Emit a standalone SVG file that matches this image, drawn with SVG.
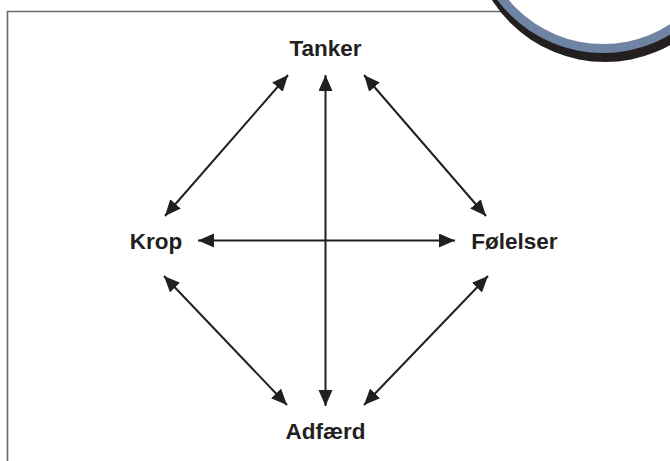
<svg xmlns="http://www.w3.org/2000/svg" width="670" height="461" viewBox="0 0 670 461">
<style>
.lbl{font-family:"Liberation Sans",Arial,sans-serif;font-weight:bold;font-size:22.5px;fill:#231f20;text-anchor:middle}
.con{stroke:#231f20;stroke-width:2;fill:none;marker-start:url(#ah);marker-end:url(#ah)}
.frame{stroke:#6a6a6a;stroke-width:1.6;fill:none}
</style>
<defs>
<marker id="ah" markerUnits="userSpaceOnUse" markerWidth="17" markerHeight="15" refX="16" refY="7" orient="auto-start-reverse">
<path d="M0,0 L16,7 L0,14 Z" fill="#231f20"/>
</marker>
</defs>
<rect width="670" height="461" fill="#ffffff"/>
<g id="frame">
<path class="frame" d="M7.5,461 V11.5 H502"/>
<circle cx="605" cy="-72" r="134" fill="#231f20"/>
<circle cx="603" cy="-79" r="132" fill="#6f84a3"/>
<circle cx="603" cy="-79" r="123" fill="#ffffff"/>
</g>
<g id="connectors">
<line class="con" x1="325.5" y1="75" x2="325.5" y2="406"/>
<line class="con" x1="198" y1="240.5" x2="455" y2="240.5"/>
<line class="con" x1="288" y1="75" x2="165" y2="216"/>
<line class="con" x1="364" y1="75" x2="486" y2="216"/>
<line class="con" x1="164" y1="276" x2="287" y2="405"/>
<line class="con" x1="488" y1="276" x2="364" y2="405"/>
</g>
<g id="node-tanker"><text class="lbl" x="325.5" y="55.5">Tanker</text></g>
<g id="node-krop"><text class="lbl" x="156" y="248.5">Krop</text></g>
<g id="node-folelser"><text class="lbl" x="514.5" y="249">Følelser</text></g>
<g id="node-adfaerd"><text class="lbl" x="325.5" y="438.5">Adfærd</text></g>
</svg>
